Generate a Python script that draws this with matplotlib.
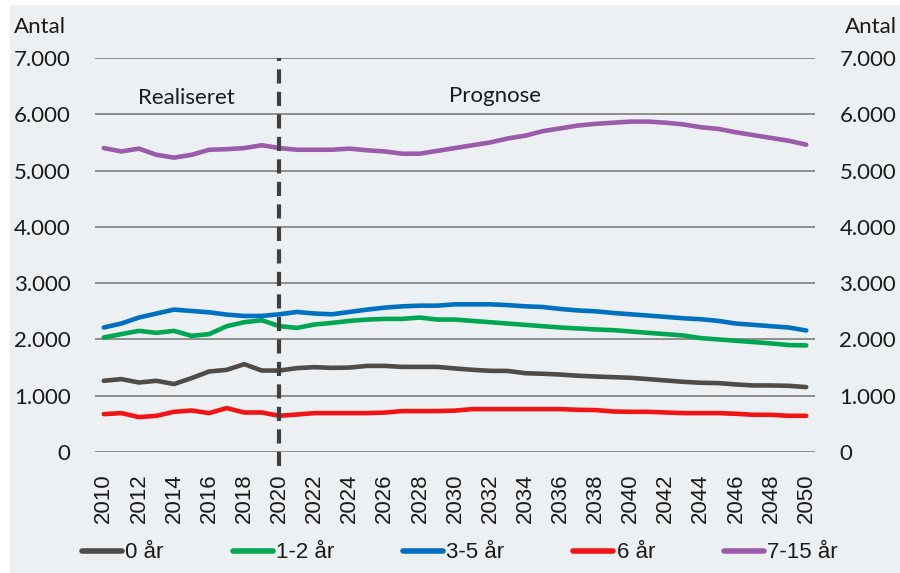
import matplotlib
matplotlib.use("Agg")
import matplotlib.pyplot as plt
from matplotlib.patches import Rectangle
from matplotlib.ticker import FuncFormatter

years = list(range(2010, 2051))
series_names = ["0 år", "1-2 år", "3-5 år", "6 år", "7-15 år"]

age_0 = [1265, 1295, 1235, 1265, 1207, 1313, 1430, 1460, 1560, 1447, 1447, 1490, 1507,
         1495, 1500, 1530, 1530, 1512, 1512, 1512, 1484, 1460, 1442, 1440, 1400, 1390, 1376, 1355,
         1341, 1330, 1318, 1295, 1271, 1247, 1230, 1224, 1200, 1182, 1182, 1176, 1153]
age_1_2 = [2035, 2094, 2152, 2117, 2152, 2064, 2094, 2235, 2306, 2341, 2235, 2205, 2265,
           2294, 2329, 2353, 2365, 2365, 2389, 2353, 2353, 2329, 2306, 2282, 2259, 2235, 2212, 2195,
           2177, 2165, 2141, 2117, 2094, 2070, 2023, 2000, 1976, 1953, 1929, 1900, 1894]
age_3_5 = [2212, 2283, 2389, 2460, 2530, 2505, 2482, 2441, 2417, 2417, 2447, 2488, 2460,
           2447, 2488, 2530, 2565, 2588, 2600, 2600, 2624, 2624, 2624, 2610, 2588, 2576, 2541, 2515,
           2500, 2470, 2447, 2424, 2400, 2376, 2359, 2329, 2282, 2259, 2235, 2212, 2159]
age_6 = [673, 691, 620, 643, 714, 737, 691, 780, 702, 702, 643, 666, 691,
         691, 691, 691, 700, 727, 727, 727, 735, 762, 762, 762, 762, 762, 762, 750,
         745, 720, 714, 714, 702, 691, 691, 691, 679, 661, 661, 643, 643]
age_7_15 = [5400, 5340, 5390, 5280, 5230, 5280, 5370, 5380, 5400, 5450, 5400, 5370, 5370,
            5370, 5390, 5360, 5340, 5300, 5300, 5350, 5400, 5450, 5500, 5570, 5620, 5700, 5750, 5800,
            5830, 5850, 5870, 5870, 5850, 5820, 5770, 5740, 5680, 5630, 5580, 5530, 5460]

colors = ["#4E4B48", "#00A651", "#0070C0", "#F01414", "#9A5BAA"]
y_ticks = [0, 1000, 2000, 3000, 4000, 5000, 6000, 7000]
x_ticks = list(range(2010, 2051, 2))

bg = "#ECF0F3"
txt = "#1a1a1a"
fig = plt.figure(figsize=(9, 5.73), dpi=100)
fig.patch.set_facecolor("white")
fig.add_artist(Rectangle((10 / 900, 0.0), 1.0, 1 - 5 / 573, transform=fig.transFigure,
                         facecolor=bg, edgecolor="none", zorder=-10))

ax = fig.add_axes([95 / 900, (573 - 452) / 573, 720 / 900, 394 / 573])
ax.patch.set_alpha(0)

for s in ax.spines.values():
    s.set_visible(False)

ax.set_xlim(2009.5, 2050.5)
ax.set_ylim(0, 7000)
ax.set_yticks(y_ticks)
ax.yaxis.set_major_formatter(FuncFormatter(lambda v, p: f"{int(v):,}".replace(",", ".")))
ax.grid(axis="y", color="#8E8E8E", linewidth=1.4)
ax.set_axisbelow(True)

ax.tick_params(axis="y", left=False, right=False, labelleft=True, labelright=True, pad=14,
               labelsize=16, labelcolor=txt)
for lbl in ax.get_yticklabels():
    lbl.set_fontfamily("Lato")
ax.set_xticks(x_ticks)
ax.set_xticklabels([str(y) for y in x_ticks], rotation=90, fontsize=16,
                   fontfamily="Liberation Sans", color=txt)
ax.tick_params(axis="x", bottom=False, pad=12)

all_series = [age_0, age_1_2, age_3_5, age_6, age_7_15]
for name, vals, c in zip(series_names, all_series, colors):
    ax.plot(years, vals, color=c, linewidth=3.3, label=name, solid_capstyle="round",
            solid_joinstyle="round", zorder=3)

ax.plot([2020, 2020], [-250, 7000], color="#404040", linewidth=3, linestyle=(0, (3.4, 2.0)),
        clip_on=False, zorder=4)

fig.text(186 / 900, 1 - 98 / 573, "Realiseret", fontsize=16, fontfamily="Lato",
         ha="center", va="center", color=txt)
fig.text(495 / 900, 1 - 96 / 573, "Prognose", fontsize=16, fontfamily="Lato",
         ha="center", va="center", color=txt)
fig.text(14 / 900, 1 - 27 / 573, "Antal", fontsize=16, fontfamily="Lato",
         ha="left", va="center", color=txt)
fig.text(897 / 900, 1 - 27 / 573, "Antal", fontsize=16, fontfamily="Lato",
         ha="right", va="center", color=txt)

leg = fig.legend(loc="center", bbox_to_anchor=(460 / 900, 1 - 553 / 573), ncol=5,
                 frameon=False, prop={"family": "Liberation Sans", "size": 16},
                 handlelength=1.8, handletextpad=0.15, columnspacing=3.1)
for t in leg.get_texts():
    t.set_color(txt)
for h in leg.get_lines():
    h.set_linewidth(4)

fig.savefig("out.png", dpi=100, facecolor=fig.get_facecolor())
